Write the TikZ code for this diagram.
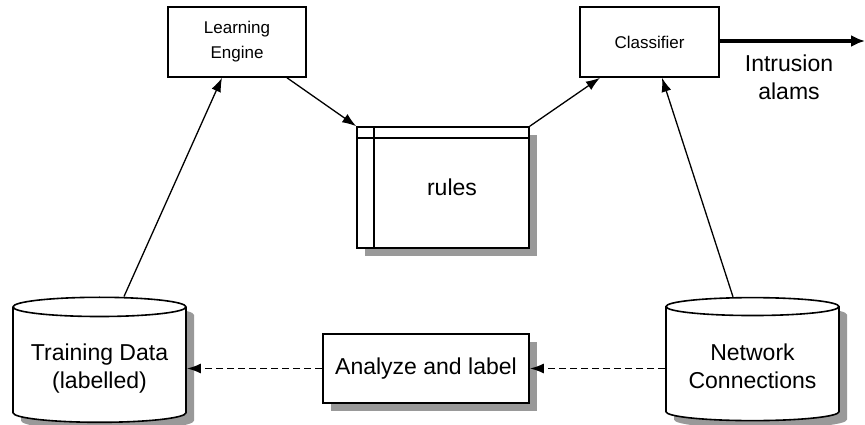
\documentclass[tikz,border=0pt]{standalone}
\usepackage{fontspec}
\setmainfont{Liberation Sans}
\usetikzlibrary{arrows.meta,shapes.geometric,shadows}
\begin{document}
\begin{tikzpicture}[x=1pt,y=-1pt,
	block/.style={draw, line width=1.6pt, fill=white, inner sep=0pt},
	shade box/.style={block, drop shadow={shadow xshift=8pt, shadow yshift=-8pt, fill=gray!80, opacity=1}},
	store/.style={shade box, cylinder, shape border rotate=90, aspect=0.14, align=center},
	small text/.style={font=\fontsize{17}{25}\selectfont},
	big text/.style={font=\fontsize{23}{28}\selectfont},
	flow/.style={line width=1.3pt, -{Latex[length=14pt,width=10pt]}},
	dashflow/.style={flow, line width=1.8pt, dash pattern=on 7pt off 4pt}]
	\useasboundingbox (0,0) rectangle (865,425);
	\node[block, small text, align=center, minimum width=138pt, minimum height=70pt] (le) at (237,42) {Learning\\Engine};
	\node[block, small text, minimum width=139pt, minimum height=70pt] (cl) at (649.5,42) {Classifier};
	\node[shade box, big text, minimum width=172pt, minimum height=121pt] (rules) at (443,187.5) {\hspace{18pt}rules};
	\draw[line width=1.6pt] ([xshift=18pt]rules.north west) -- ([xshift=18pt]rules.south west);
	\draw[line width=1.6pt] ([yshift=-12pt]rules.north west) -- ([yshift=-12pt]rules.north east);
	\node[shade box, big text, minimum width=206pt, minimum height=69pt] (ana) at (426,368.5) {Analyze and label};
	\node[store, big text, minimum width=173pt, minimum height=125pt] (td) at (99.5,365) {\rule{0pt}{24pt}Training Data\\(labelled)};
	\node[store, big text, minimum width=173pt, minimum height=123pt] (nc) at (752.5,364) {\rule{0pt}{22pt}Network\\Connections};
	\coordinate (alarm) at (865,41);
	\draw[flow] ([xshift=24.5pt]td.north) -- ([xshift=-15pt]le.south);
	\draw[flow] ([xshift=50pt]le.south) -- (rules.north west);
	\draw[flow] (rules.north east) -- ([xshift=-49.5pt]cl.south);
	\draw[flow] ([xshift=-19.5pt]nc.north) -- ([xshift=12.5pt]cl.south);
	\draw[line width=3.5pt, -{Latex[length=14pt,width=12pt]}] (cl.east |- alarm) -- (alarm);
	\node[big text, align=center] (alarmtext) at (789,77) {Intrusion\\alams};
	\draw[dashflow] (nc.west |- ana.east) -- (ana.east);
	\draw[dashflow] (ana.west) -- (ana.west -| td.east);
\end{tikzpicture}
\end{document}
